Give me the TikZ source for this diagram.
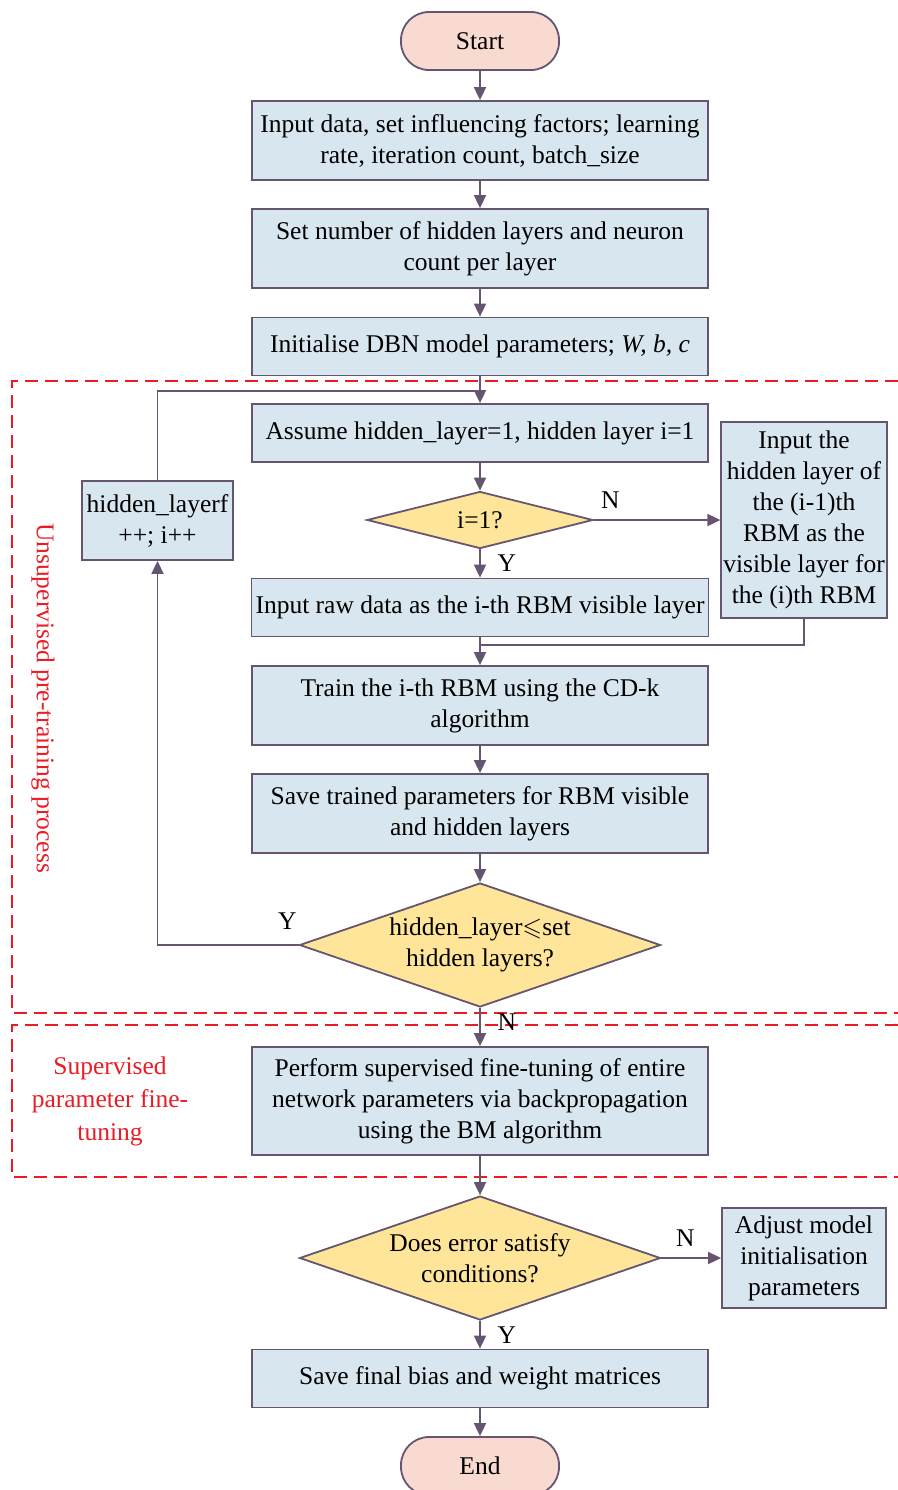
\documentclass[tikz,border=0pt]{standalone}
\usepackage{amssymb}
\usepackage{fontspec}
\setmainfont{Liberation Serif}
\usetikzlibrary{shapes.geometric,arrows.meta}
\definecolor{BoxBlue}{HTML}{D7E6EF}
\definecolor{DecYellow}{HTML}{FFE59A}
\definecolor{TermPink}{HTML}{F8DAD1}
\definecolor{EdgeGray}{HTML}{655570}
\definecolor{DashRed}{HTML}{EC1C24}

\begin{document}
\begin{tikzpicture}[x=0.5pt,y=-0.5pt,>={Triangle[length=6.5pt,width=6pt]},
  every node/.style={font=\fontsize{12.75}{15.5}\selectfont,align=center},
  terminal/.style={draw=EdgeGray,fill=TermPink,line width=0.9pt,rounded corners=14pt,minimum width=79pt,minimum height=29pt},
  process/.style={draw=EdgeGray,fill=BoxBlue,line width=0.9pt,minimum width=228pt,inner xsep=2pt},
  sidebox/.style={draw=EdgeGray,fill=BoxBlue,line width=0.9pt,minimum width=82pt,inner xsep=1pt},
  decision/.style={draw=EdgeGray,fill=DecYellow,line width=0.9pt,diamond,inner sep=0pt},
  flow/.style={draw=EdgeGray,line width=0.9pt},
  region/.style={draw=DashRed,line width=0.8pt,dash pattern=on 6.5pt off 3.5pt},
  regiontext/.style={text=DashRed}]
\useasboundingbox (0,0) rectangle (898,1490);

\draw[region] (898,381) -- (12,381) -- (12,1013) -- (898,1013);
\draw[region] (898,1025) -- (12,1025) -- (12,1177) -- (898,1177);
\node[regiontext,rotate=-90] (unsuplbl) at (43,698) {Unsupervised pre-training process};
\node[regiontext,font=\fontsize{12.75}{16.5}\selectfont] (suplbl) at (110,1101) {Supervised\\parameter fine-\\tuning};

\node[terminal] (start) at (480,41) {Start};
\node[process,minimum height=39.5pt] (input) at (480,140.5) {Input data, set influencing factors; learning\\rate, iteration count, batch\_size};
\node[process,minimum height=39.5pt] (layers) at (480,248.5) {Set number of hidden layers and neuron\\count per layer};
\node[process,minimum height=29pt] (init) at (480,346.5) {Initialise DBN model parameters; \textit{W, b, c}};
\node[process,minimum height=29pt] (assume) at (480,433) {Assume hidden\_layer=1, hidden layer i=1};
\node[decision,minimum width=113pt,minimum height=28.5pt,aspect=4] (first) at (480,520) {i=1?};
\node[sidebox,minimum height=98pt] (prev) at (804,520) {Input the\\hidden layer of\\the (i-1)th\\RBM as the\\visible layer for\\the (i)th RBM};
\node[process,minimum height=29pt] (raw) at (480,607.5) {Input raw data as the i-th RBM visible layer};
\node[process,minimum height=39.5pt] (train) at (480,705.5) {Train the i-th RBM using the CD-k\\algorithm};
\node[process,minimum height=39.5pt] (savep) at (480,813.5) {Save trained parameters for RBM visible\\and hidden layers};
\node[decision,minimum width=180.5pt,minimum height=62pt,aspect=2.9] (more) at (480,945) {hidden\_layer$\leqslant$set\\hidden layers?};
\node[draw=EdgeGray,fill=BoxBlue,line width=0.9pt,minimum width=75.5pt,minimum height=39.5pt,inner xsep=1pt] (inc) at (157.5,520.5) {hidden\_layerf\\++; i++};
\node[process,minimum height=54pt] (tune) at (480,1101) {Perform supervised fine-tuning of entire\\network parameters via backpropagation\\using the BM algorithm};
\node[decision,minimum width=180.5pt,minimum height=62pt,aspect=2.9] (error) at (480,1258) {Does error satisfy\\conditions?};
\node[sidebox,minimum height=50pt] (adjust) at (804,1258) {Adjust model\\initialisation\\parameters};
\node[process,minimum height=29pt] (final) at (480,1378.5) {Save final bias and weight matrices};
\node[terminal] (stop) at (480,1466) {End};

\coordinate (loopjoin) at (480,391);
\coordinate (mergept) at (480,645);

\draw[flow,->] (start) -- (input);
\draw[flow,->] (input) -- (layers);
\draw[flow,->] (layers) -- (init);
\draw[flow,->] (init) -- (assume);
\draw[flow] (inc.north) |- (loopjoin);
\draw[flow,->] (assume) -- (first);
\draw[flow,->] (first) -- node[right=5pt] {Y} (raw);
\draw[flow,->] (first) -- node[above=2pt,pos=0.13] {N} (prev);
\draw[flow,->] (raw) -- (train);
\draw[flow] (prev.south) |- (mergept);
\draw[flow,->] (train) -- (savep);
\draw[flow,->] (savep) -- (more);
\draw[flow,->] (more.west) -| node[above=4pt,pos=0.04] {Y} (inc.south);
\draw[flow,->] (more) -- node[right=5pt,pos=0.36] {N} (tune);
\draw[flow,->] (tune) -- (error);
\draw[flow,->] (error) -- node[above=2pt,pos=0.4] {N} (adjust);
\draw[flow,->] (error) -- node[right=5pt] {Y} (final);
\draw[flow,->] (final) -- (stop);
\end{tikzpicture}
\end{document}
